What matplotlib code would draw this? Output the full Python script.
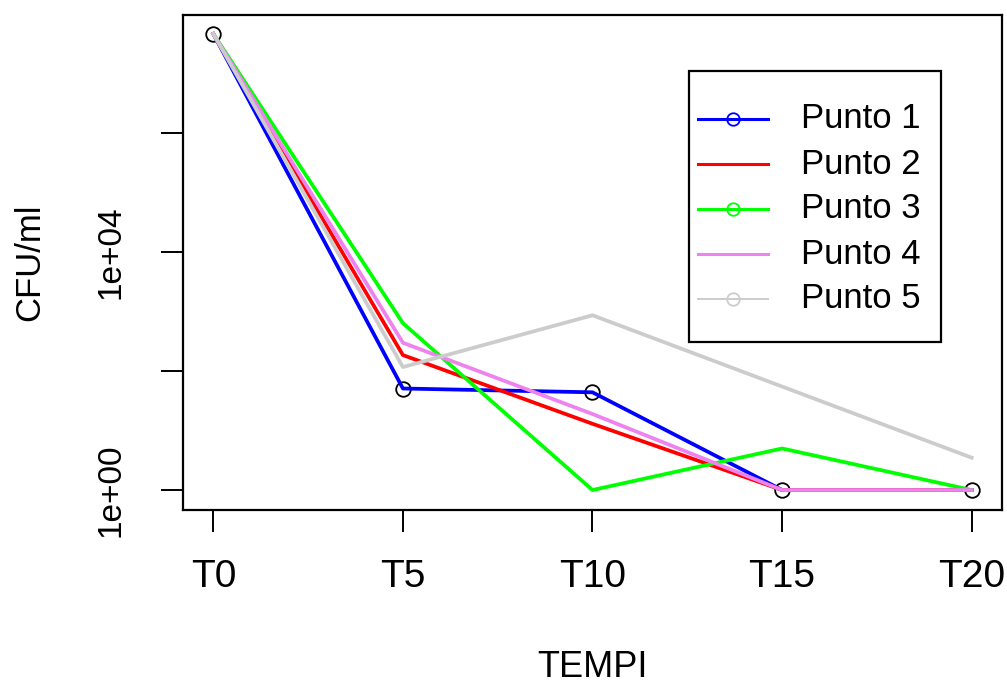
import matplotlib
matplotlib.use("Agg")
import matplotlib.pyplot as plt
from matplotlib.lines import Line2D
from matplotlib.patches import Rectangle

plt.rcParams['font.family'] = ['Liberation Sans', 'DejaVu Sans']

# data (CFU/ml, log scale)
tempi = ["T0", "T5", "T10", "T15", "T20"]
punto1 = [4.7e7, 51, 44, 1, 1]
punto2 = [4.7e7, 186, 13, 1, 1]
punto3 = [4.7e7, 640, 1, 5, 1]
punto4 = [4.7e7, 300, 19, 1, 1]
punto5 = [4.7e7, 117, 870, 55, 3.5]

names = ["Punto 1", "Punto 2", "Punto 3", "Punto 4", "Punto 5"]
colors = ["#0000ff", "#ff0000", "#00ff00", "#ee82ee", "#cccccc"]
legend_marker = [True, False, True, False, True]
legend_lw = [2.2, 2.2, 2.2, 2.2, 1.4]

yticks = [1, 1e2, 1e4, 1e6]
ytick_labels = ["1e+00", "", "1e+04", ""]

W, H = 1007, 684
fig = plt.figure(figsize=(W/100, H/100), dpi=100)
ax = fig.add_axes([183/W, 1-510/H, (1002-183)/W, (510-15)/H])

x = list(range(len(tempi)))
data = [punto1, punto2, punto3, punto4, punto5]

# black open circles of the first series, drawn under the lines
ax.plot(x, punto1, linestyle='none', marker='o', markersize=10.5,
        markerfacecolor='none', markeredgecolor='black', markeredgewidth=1.3)

for vals, col in zip(data, colors):
    ax.plot(x, vals, color=col, linewidth=2.7)

ax.set_yscale('log')
ax.set_xlim(-0.16, 4.16)
ax.set_ylim(10**-0.336, 10**7.99)
ax.set_yticks(yticks)
ax.set_yticklabels(ytick_labels, rotation=90, va='center')
ax.minorticks_off()
ax.set_xticks(x)
ax.set_xticklabels(tempi)

ax.tick_params(axis='y', labelsize=24, length=16, width=1.4, pad=25)
ax.tick_params(axis='x', labelsize=28, length=16, width=1.4, pad=19)
for s in ax.spines.values():
    s.set_linewidth(1.6)

ax.set_xlabel("TEMPI", fontsize=26, labelpad=40)
ax.set_ylabel("CFU/ml", fontsize=25, labelpad=35)

# legend box drawn by hand (figure pixel positions)
def fx(px):
    return px / W

def fy(py):
    return 1 - py / H

fig.patches.append(Rectangle((fx(689), fy(342)), fx(941) - fx(689), fy(71) - fy(342),
                             transform=fig.transFigure, facecolor='white',
                             edgecolor='black', linewidth=1.6, zorder=5))
rows = [119, 164, 209, 254, 299]
for name, col, mk, lw, ry in zip(names, colors, legend_marker, legend_lw, rows):
    fig.lines.append(Line2D([fx(698), fx(768)], [fy(ry), fy(ry)], transform=fig.transFigure,
                            color=col, linewidth=lw, zorder=6))
    if mk:
        fig.lines.append(Line2D([fx(733)], [fy(ry)], transform=fig.transFigure,
                                linestyle='none', marker='o', markersize=9,
                                markerfacecolor='none', markeredgecolor=col,
                                markeredgewidth=1.3, zorder=7))
    fig.text(fx(801), fy(ry), name, fontsize=25, va='center', ha='left', zorder=8)

fig.savefig("out.png", dpi=100)
